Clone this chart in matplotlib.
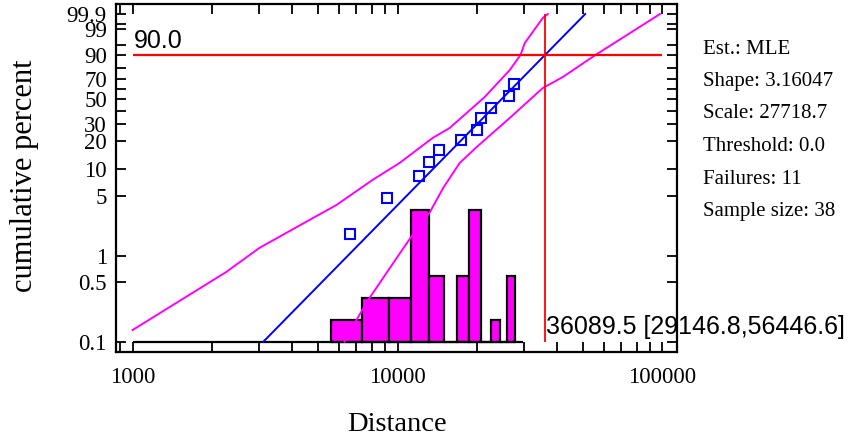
import numpy as np
import matplotlib
matplotlib.use('Agg')
import matplotlib.pyplot as plt
from matplotlib.ticker import FixedLocator, FixedFormatter, NullFormatter

# failure points (distance, cumulative percent)
fail_x = [6643, 9087, 12006, 13099, 14289, 17307, 19891, 20600, 22470, 26290, 27455]
fail_p = [1.81, 4.71, 8.37, 11.98, 16.16, 20.62, 26.10, 34.17, 42.14, 53.07, 64.87]

# fitted Weibull line (end points)
fit_x = [3117, 51090]
fit_p = [0.1, 99.9]

# confidence bounds
upper_x = [1000, 2257, 3008, 4648, 5880, 8042, 10175, 13563, 15726, 21330, 26510, 29150, 30210, 35340, 36900]
upper_p = [0.137, 0.654, 1.246, 2.63, 3.92, 7.55, 11.68, 21.63, 27.32, 52.12, 78.2, 90.0, 95.76, 99.8, 99.9]
lower_x = [6304, 7000, 7840, 10000, 11270, 13210, 14900, 17157, 19891, 26510, 35340, 42060, 56000, 73400, 97840]
lower_p = [0.1, 0.18, 0.325, 0.986, 1.685, 3.2, 6.2, 11.68, 17.39, 34.17, 60.9, 71.74, 90.0, 98.02, 99.9]

# histogram of censored units
bin_edges = [5615, 7360, 9250, 11200, 13130, 14930, 16760, 18550, 20720, 22470, 24300, 25890, 27860]
bin_counts = [1, 2, 2, 6, 3, 0, 3, 6, 0, 1, 0, 3]
hist_range = [1000, 29700]

target_p = 90.0
target_x = 36089.5
target_label = "36089.5 [29146.8,56446.6]"

y_major = [0.1, 0.5, 1, 5, 10, 20, 30, 50, 70, 90, 99, 99.9]
y_major_labels = ["0.1", "0.5", "1", "5", "10", "20", "30", "50", "70", "90", "99", "99.9"]
y_minor = [40, 60, 80, 95, 99.5]
x_major = [1000, 10000, 100000]
x_major_labels = ["1000", "10000", "100000"]

stats = ["Est.: MLE", "Shape: 3.16047", "Scale: 27718.7", "Threshold: 0.0",
         "Failures: 11", "Sample size: 38"]


def fwd(p):
    p = np.clip(np.asarray(p, dtype=float), 1e-7, 100 - 1e-7)
    return np.log(-np.log(1 - p / 100.0))


def inv(y):
    y = np.clip(np.asarray(y, dtype=float), -50, 5)
    return 100.0 * (1 - np.exp(-np.exp(y)))


serif = 'Liberation Serif'
sans = 'Liberation Sans'

fig = plt.figure(figsize=(8.53, 4.36), dpi=100)
ax = fig.add_axes([116 / 853, 84 / 436, 561 / 853, 348 / 436])
ax.set_xscale('log')
ax.set_yscale('function', functions=(fwd, inv))
ax.set_xlim(866, 113430)
ax.set_ylim(0.0757, 99.9883)

# histogram in its own linear axes behind the main one
ax2 = ax.twinx()
ax2.set_ylim(-10.3 / 21.9, 337.7 / 21.9)
lefts = bin_edges[:-1]
widths = [b - a for a, b in zip(bin_edges[:-1], bin_edges[1:])]
ax2.bar(lefts, bin_counts, width=widths, align='edge', color='#ff00ff',
        edgecolor='black', linewidth=1.6)
ax2.hlines(0, hist_range[0], hist_range[1], color='black', linewidth=1.6)
ax2.yaxis.set_visible(False)
for s in ax2.spines.values():
    s.set_visible(False)
ax.set_zorder(2)
ax2.set_zorder(1)
ax.patch.set_visible(False)

ax.plot(upper_x, upper_p, color='#ff00ff', lw=1.4)
ax.plot(lower_x, lower_p, color='#ff00ff', lw=1.4)
ax.plot(fit_x, fit_p, color='#0000ff', lw=1.4)
ax.plot(fail_x, fail_p, 's', mfc='none', mec='#0000ff', ms=7, mew=1.5)

ax.hlines(target_p, 1000, 100000, color='#ff0000', lw=1.6)
ax.vlines(target_x, 0.1, 99.9, color='#ff0000', lw=1.3)
ax.text(1010, target_p + 0.8, "90.0", fontsize=18, family=sans,
        ha='left', va='bottom')
ax.text(target_x * 1.01, 0.149, target_label, fontsize=18, family=sans,
        ha='left', va='center', clip_on=False)

ax.xaxis.set_major_locator(FixedLocator(x_major))
ax.xaxis.set_major_formatter(FixedFormatter(x_major_labels))
ax.xaxis.set_minor_formatter(NullFormatter())
ax.yaxis.set_major_locator(FixedLocator(y_major))
ax.yaxis.set_major_formatter(FixedFormatter(y_major_labels))
ax.yaxis.set_minor_locator(FixedLocator(y_minor))
ax.yaxis.set_minor_formatter(NullFormatter())
ax.tick_params(which='both', direction='in', top=True, right=True,
               left=True, bottom=True, length=7, width=1.3)
ax.tick_params(axis='y', labelsize=16.5, pad=6.5)
ax.tick_params(axis='x', labelsize=16.5, pad=11)
for lab in ax.get_xticklabels() + ax.get_yticklabels():
    lab.set_family(serif)
for s in ax.spines.values():
    s.set_linewidth(1.6)

ax.set_xlabel("Distance", fontsize=20.5, family=serif, labelpad=17)
fig.text(25 / 853, 1 - 176 / 436, "cumulative percent", fontsize=22,
         family=serif, rotation=90, ha='center', va='center')

for i, line in enumerate(stats):
    fig.text(703 / 853, 1 - (49 + 32.5 * i) / 436, line, fontsize=15,
             family=serif, ha='left', va='center')

fig.savefig('out.png', dpi=100, facecolor='white')
